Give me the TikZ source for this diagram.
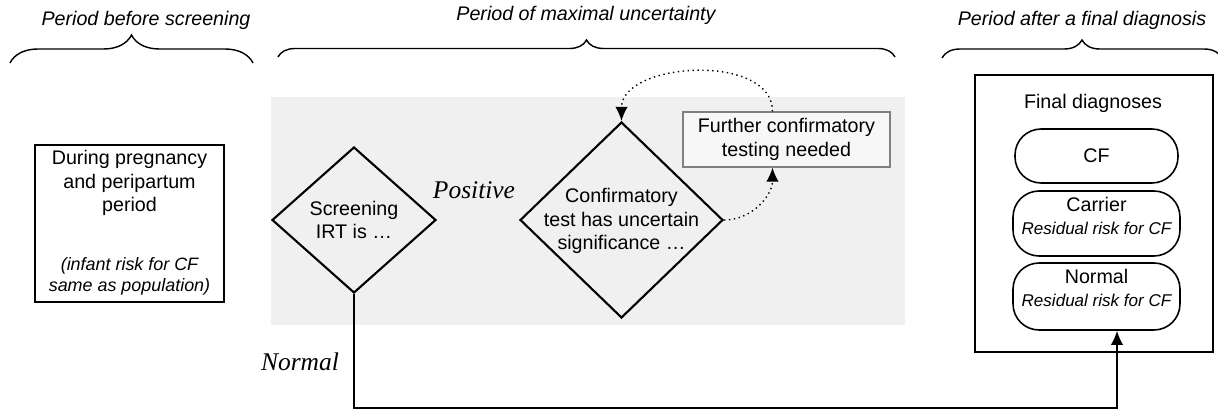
\documentclass[tikz,border=0pt]{standalone}
\usepackage{fontspec}
\setmainfont{Liberation Sans}
\newfontfamily\serifit{Liberation Serif}
\usepackage{tikz}
\usetikzlibrary{arrows.meta}
\usetikzlibrary{shapes.geometric,decorations.pathreplacing}

\newcommand{\bodyfont}{\fontsize{11.2}{13.3}\selectfont}
\newcommand{\smallit}{\fontsize{9.7}{11.8}\selectfont\itshape}

\tikzset{
	period/.style = {font=\bodyfont\itshape, inner sep=0pt},
	pbrace/.style = {decorate, decoration={brace, amplitude=#1}, line width=0.8pt},
	txt/.style = {font=\bodyfont, align=center, inner sep=0pt},
	decision/.style = {diamond, draw, line width=1.2pt, inner sep=0pt},
	outcome/.style = {rectangle, rounded corners=0.52cm, draw, line width=0.9pt},
	branch/.style = {font=\fontsize{14.5}{16}\selectfont\serifit\itshape, inner sep=0pt},
	retest/.style = {dotted, line width=0.8pt, -{Latex[length=8pt, width=7pt]}},
	flow/.style = {line width=0.8pt, -{Latex[length=8pt, width=7pt]}}
}

\begin{document}
\begin{tikzpicture}[x = 0.02cm, y = -0.02cm]
	\useasboundingbox (0,0) rectangle (1218,415);
	
	% periods
	\node[period] (before) at (146,20) {Period before screening};
	\node[period] (uncert) at (586,15) {Period of maximal uncertainty};
	\node[period] (after) at (1082,20) {Period after a final diagnosis};
	
	\draw[pbrace = 0.56cm] (10,63) -- (253,63);
	\draw[pbrace = 0.34cm] (278,57) -- (895,57);
	\draw[pbrace = 0.36cm] (942,58) -- (1222,58);
	
	% uncertainty area
	\fill[black!6] (271,97) rectangle (905,325);
	
	% before screening
	\node[draw, line width=1.1pt, minimum width=3.78cm, minimum height=3.14cm] (pregnancy) at (129.5,223.5) {};
	\node[txt] (pregtxt) at (129.5,183) {During pregnancy\\and peripartum\\period};
	\node[txt, font=\fontsize{10.2}{12}\selectfont\itshape] (risktxt) at (129.5,276) {(infant risk for CF\\same as population)};
	
	% decisions
	\node[decision, minimum width=3.28cm, minimum height=2.92cm] (irt) at (354,220) {};
	\node[txt] (irttxt) at (354,220) {Screening\\IRT is \dots};
	\node[decision, minimum width=4.06cm, minimum height=3.92cm] (conf) at (621.5,220) {};
	\node[txt] (conftxt) at (621.5,221) {Confirmatory\\test has uncertain\\significance \dots};
	
	\node[txt, draw=black!50, fill=black!3, line width=0.6pt, minimum width=4.14cm, minimum height=1.1cm] (further) at (786.5,139.5) {Further confirmatory\\testing needed};
	
	\node[branch] (pos) at (474,190) {Positive};
	\node[branch] (neg) at (300,362) {Normal};
	
	% final diagnoses
	\node[draw, line width=1.1pt, minimum width=4.76cm, minimum height=5.54cm] (final) at (1094,213.5) {};
	\node[txt] (finaltxt) at (1093,103) {Final diagnoses};
	
	\node[outcome, minimum width=3.26cm, minimum height=1.08cm] (cf) at (1096.5,156) {};
	\node[txt] (cftxt) at (1096.5,156) {CF};
	\node[outcome, minimum width=3.34cm, minimum height=1.3cm] (carrier) at (1096.5,223.5) {};
	\node[txt] (carriertxt) at (1096.5,216) {Carrier\\{\smallit Residual risk for CF}};
	\node[outcome, minimum width=3.34cm, minimum height=1.34cm] (normal) at (1096.5,296.5) {};
	\node[txt] (normaltxt) at (1096.5,288) {Normal\\{\smallit Residual risk for CF}};
	
	% connectors
	\draw[retest] ([xshift=-0.28cm]further.north) to[out=90, in=90] (conf.north);
	\draw[retest] (conf.east) to[out=0, in=-90] ([xshift=-0.28cm]further.south);
	
	\coordinate (turn) at (1117,408);
	\draw[flow] (irt.south) |- (turn) -- (normal.south -| turn);
	
\end{tikzpicture}
\end{document}
